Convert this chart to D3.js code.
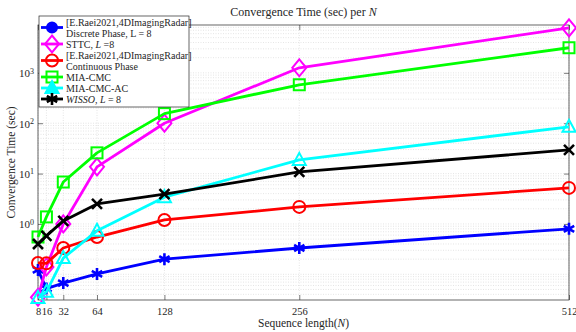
<!DOCTYPE html>
<html>
<head>
<meta charset="utf-8">
<script src="https://cdn.jsdelivr.net/npm/d3@7"></script>
<style>
  body { margin: 0; background: #fff; }
  svg text { font-family: "Liberation Serif", "DejaVu Serif", serif; fill: #262626; }
</style>
</head>
<body>
<svg id="chart" width="576" height="332"></svg>
<script>
// sequence lengths N
var lengths = [8, 16, 32, 64, 128, 256, 512];
var xTickValues = [8, 16, 32, 64, 128, 256, 512];
var yTickValues = [1, 10, 100, 1000];

// convergence time (sec)
var discretePhase = [0.122, 0.052, 0.067, 0.102, 0.20, 0.333, 0.80];
var sttc = [0.035, 0.14, 1.0, 13.6, 100, 1260, 7800];
var continuousPhase = [0.168, 0.165, 0.333, 0.55, 1.2, 2.18, 5.2];
var miaCmc = [0.55, 1.38, 6.8, 25.8, 155, 580, 3150];
var miaCmcAc = [0.034, 0.045, 0.21, 0.73, 3.4, 18.7, 85];
var wisso = [0.40, 0.58, 1.15, 2.5, 3.9, 10.8, 29.5];

// legend markers differ from the plot markers in the original figure
var series = [
  {name: ['[E.Raei2021,4DImagingRadar]', 'Discrete Phase, L = 8'], values: discretePhase, color: '#0000ff', marker: 'asterisk', legendMarker: 'dot'},
  {name: ['STTC, <i>L</i> =8'], values: sttc, color: '#ff00ff', marker: 'diamond', legendMarker: 'diamond'},
  {name: ['[E.Raei2021,4DImagingRadar]', 'Continuous Phase'], values: continuousPhase, color: '#ff0000', marker: 'circle', legendMarker: 'circle'},
  {name: ['MIA-CMC'], values: miaCmc, color: '#00ff00', marker: 'square', legendMarker: 'square'},
  {name: ['MIA-CMC-AC'], values: miaCmcAc, color: '#00ffff', marker: 'triangle', legendMarker: 'filledTriangle'},
  {name: ['<i>WISSO</i>, <i>L</i> = 8'], values: wisso, color: '#000000', marker: 'cross', legendMarker: 'asterisk'}
];

var margin = {top: 25, right: 7, bottom: 32, left: 38}
  , width = 576 - margin.left - margin.right
  , height = 332 - margin.top - margin.bottom;

var svg = d3.select('#chart');
var g = svg.append('g').attr('transform', 'translate(' + margin.left + ',' + margin.top + ')');

var x = d3.scaleLinear().domain([8, 512]).range([0, width]);
var y = d3.scaleLog().domain([Math.pow(10, -1.51), Math.pow(10, 3.95)]).range([height, 0]);

// grid
var minor = [];
for (var d = -2; d <= 3; d++) {
  for (var k = 1; k <= 9; k++) {
    var v = k * Math.pow(10, d);
    if (v >= y.domain()[0] && v <= y.domain()[1]) minor.push(v);
  }
}
g.append('g').selectAll('line').data(minor).enter().append('line')
  .attr('x1', 0).attr('x2', width)
  .attr('y1', function(d) { return y(d); }).attr('y2', function(d) { return y(d); })
  .attr('stroke', '#d4d4d4').attr('stroke-width', 0.6).attr('stroke-dasharray', '1,1.5');
g.append('g').selectAll('line').data(xTickValues).enter().append('line')
  .attr('y1', 0).attr('y2', height)
  .attr('x1', function(d) { return x(d); }).attr('x2', function(d) { return x(d); })
  .attr('stroke', '#d4d4d4').attr('stroke-width', 0.6).attr('stroke-dasharray', '1,1.5');

// axes (inward ticks, mirrored like a box)
function styleAxis(sel) {
  sel.select('.domain').remove();
  sel.selectAll('line').attr('stroke', '#262626').attr('stroke-width', 0.6);
  sel.selectAll('text').style('font-size', '10.5px').attr('fill', '#262626');
}
g.append('g').attr('transform', 'translate(0,' + height + ')')
  .call(d3.axisBottom(x).tickValues(xTickValues).tickSizeInner(-5).tickPadding(8).tickFormat(d3.format('d')))
  .call(styleAxis);
g.append('g')
  .call(d3.axisTop(x).tickValues(xTickValues).tickSizeInner(-5).tickFormat(''))
  .call(styleAxis);
g.append('g').attr('transform', 'translate(' + width + ',0)')
  .call(d3.axisRight(y).tickValues(yTickValues).tickSizeInner(-5).tickFormat(''))
  .call(styleAxis);
var yAxisG = g.append('g')
  .call(d3.axisLeft(y).tickValues(yTickValues).tickSizeInner(-5).tickPadding(5).tickFormat(''))
  .call(styleAxis);
yAxisG.selectAll('g.tick').append('text')
  .attr('x', -4).attr('dy', '0.35em').attr('text-anchor', 'end')
  .style('font-size', '11px')
  .each(function(d) {
    var t = d3.select(this);
    t.append('tspan').text('10');
    t.append('tspan').attr('dy', '-0.45em').style('font-size', '8px').text(Math.round(Math.log10(d)));
  });

g.append('rect').attr('width', width).attr('height', height)
  .attr('fill', 'none').attr('stroke', '#262626').attr('stroke-width', 0.7);

// markers
function drawMarker(sel, type, color) {
  sel.each(function() {
    var m = d3.select(this);
    var fill = 'none';
    if (type === 'circle') {
      m.append('circle').attr('r', 6);
    } else if (type === 'dot') {
      m.append('circle').attr('r', 5);
      fill = color;
    } else if (type === 'square') {
      m.append('rect').attr('x', -5.5).attr('y', -5.5).attr('width', 11).attr('height', 11);
    } else if (type === 'diamond') {
      m.append('path').attr('d', 'M0,-8.5L7,0L0,8.5L-7,0Z');
    } else if (type === 'triangle' || type === 'filledTriangle') {
      m.append('path').attr('d', 'M0,-7L6.5,5L-6.5,5Z');
      if (type === 'filledTriangle') fill = color;
    } else if (type === 'cross') {
      m.append('path').attr('d', 'M-5,-5L5,5M-5,5L5,-5').attr('stroke-width', 2.6);
    } else if (type === 'asterisk') {
      m.append('path').attr('d', 'M0,-6L0,6M-5.2,-3L5.2,3M-5.2,3L5.2,-3').attr('stroke-width', 2.6);
    }
    m.selectAll('*').attr('fill', fill).attr('stroke', color)
      .attr('stroke-width', function() { return d3.select(this).attr('stroke-width') || 2; });
  });
}

var line = d3.line()
  .x(function(d, i) { return x(lengths[i]); })
  .y(function(d) { return y(d); });

series.forEach(function(s) {
  var sg = g.append('g');
  sg.append('path').datum(s.values)
    .attr('d', line).attr('fill', 'none')
    .attr('stroke', s.color).attr('stroke-width', 2.8).attr('stroke-linejoin', 'round');
  sg.selectAll('g.mk').data(s.values).enter().append('g').attr('class', 'mk')
    .attr('transform', function(d, i) { return 'translate(' + x(lengths[i]) + ',' + y(d) + ')'; })
    .call(drawMarker, s.marker, s.color);
});

// title and labels
svg.append('text').attr('x', margin.left + width / 2).attr('y', 16)
  .attr('text-anchor', 'middle').style('font-size', '12px')
  .html('Convergence Time (sec) per <tspan font-style="italic">N</tspan>');
svg.append('text').attr('x', margin.left + width / 2).attr('y', 327)
  .attr('text-anchor', 'middle').style('font-size', '11.5px')
  .html('Sequence length(<tspan font-style="italic">N</tspan>)');
svg.append('text')
  .attr('transform', 'translate(15,' + (margin.top + height / 2) + ') rotate(-90)')
  .attr('text-anchor', 'middle').style('font-size', '11.5px')
  .text('Convergence Time (sec)');

// legend
var legend = svg.append('g').attr('transform', 'translate(39,16)');
legend.append('rect').attr('width', 150).attr('height', 91)
  .attr('fill', '#fff').attr('stroke', '#262626').attr('stroke-width', 0.7);
var rowY = 6;
series.forEach(function(s) {
  var nLines = s.name.length;
  var markY = rowY + (nLines - 1) * 5.5;
  var lg = legend.append('g');
  lg.append('line').attr('x1', 2).attr('x2', 24).attr('y1', markY).attr('y2', markY)
    .attr('stroke', s.color).attr('stroke-width', 2.8);
  var mk = lg.append('g').attr('transform', 'translate(13,' + markY + ')');
  drawMarker(mk, s.legendMarker, s.color);
  s.name.forEach(function(t, j) {
    lg.append('text').attr('x', 27).attr('y', rowY + j * 11).attr('dy', '0.35em')
      .style('font-size', '10px').html(t.replace(/<i>/g, '<tspan font-style="italic">').replace(/<\/i>/g, '</tspan>'));
  });
  rowY += nLines * 11;
});
</script>
</body>
</html>
